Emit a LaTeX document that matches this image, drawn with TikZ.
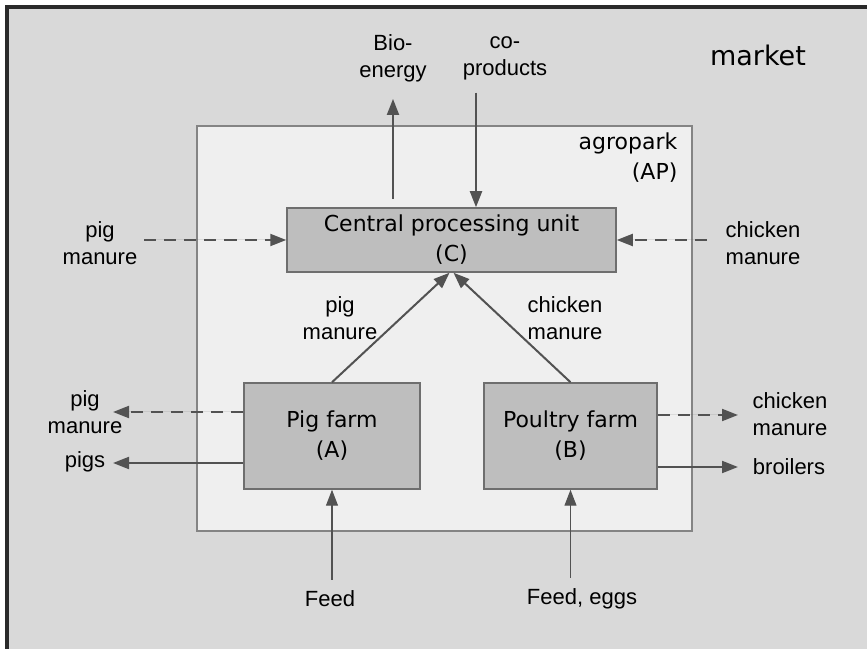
\documentclass[tikz,border=0pt]{standalone}
\usepackage{fontspec}
\setmainfont{Liberation Sans}
\newfontfamily\boxfont{DejaVu Sans}
\usepackage{xcolor}
\usepackage{tikz}
\usetikzlibrary{arrows.meta,positioning}

\definecolor{marketgray}{HTML}{D9D9D9}
\definecolor{parkgray}{HTML}{EFEFEF}
\definecolor{unitgray}{HTML}{BEBEBE}
\definecolor{edgegray}{HTML}{6E6E6E}
\definecolor{framedark}{HTML}{2A2A2A}

\begin{document}
\begin{tikzpicture}[
  x=1pt, y=1pt,
  park/.style={rectangle, draw=edgegray!85, fill=parkgray, line width=1.5pt},
  unit/.style={rectangle, draw=edgegray, fill=unitgray, line width=1.5pt,
               font=\boxfont\fontsize{22}{30}\selectfont, align=center},
  lbl/.style={font=\fontsize{22}{27}\selectfont, align=center, inner sep=1pt},
  biglbl/.style={font=\boxfont\fontsize{22}{30}\selectfont, align=center, inner sep=1pt},
  arrow/.style={-{Triangle[length=16pt,width=12pt]}, line width=2pt, draw=black!68, fill=black!68},
  dasharrow/.style={arrow, dash pattern=on 12pt off 8pt},
  feedarrow/.style={arrow, line width=1.1pt}
]
\useasboundingbox (0,0) rectangle (867,648);
\clip (0,0) rectangle (867,648);
\fill[marketgray] (7,-20) rectangle (890,641);
\draw[line width=4.5pt, framedark] (7,-20) -- (7,641) -- (890,641);

\node[biglbl, font=\boxfont\fontsize{27}{32}\selectfont] (market) at (758,593) {market};
\node[park, minimum width=495pt, minimum height=405pt] (ap) at (444.5,319.5) {};
\node[biglbl, align=right] (aplabel) at (628,490) {agropark\\(AP)};

\node[unit, minimum width=329pt, minimum height=64pt] (cpu) at (451.5,408) {Central processing unit\\(C)};
\node[unit, minimum width=176pt, minimum height=106pt] (pig) at (332,212) {Pig farm\\(A)};
\node[unit, minimum width=173pt, minimum height=106pt] (poultry) at (570.5,212) {Poultry farm\\(B)};

\node[lbl] (bio) at (393,590) {Bio-\\energy};
\node[lbl] (coprod) at (505,590) {co-\\products};
\node[lbl] (pigin) at (100,405) {pig\\manure};
\node[lbl] (chickin) at (763,405) {chicken\\manure};
\node[lbl] (pigcpu) at (340,330) {pig\\manure};
\node[lbl] (chickcpu) at (565,330) {chicken\\manure};
\node[lbl] (pigout) at (85,236) {pig\\manure};
\node[lbl] (pigs) at (85,186) {pigs};
\node[lbl] (chickout) at (790,234) {chicken\\manure};
\node[lbl] (broilers) at (789,181) {broilers};
\node[lbl] (feed) at (330,49) {Feed};
\node[lbl] (feedeggs) at (582,49) {Feed, eggs};

\draw[arrow, shorten >=16pt] ([yshift=8pt]bio.south |- cpu.north) -- (bio.south);
\draw[arrow, shorten <=12pt] ([xshift=-29pt]coprod.south) -- ([xshift=-29pt]coprod.south |- cpu.north);
\draw[dasharrow, shorten <=6pt] (pigin.east |- cpu.west) -- (cpu.west);
\draw[dasharrow, shorten <=18pt] (chickin.west |- cpu.east) -- (cpu.east);
\draw[arrow] (pig.north) -- ([xshift=-2pt]cpu.south);
\draw[arrow] (poultry.north) -- ([xshift=2pt]cpu.south);
\draw[dasharrow, shorten >=28pt] ([yshift=24pt]pig.west) -- ([yshift=24pt]pig.west -| pigout.center);
\draw[arrow, shorten >=28pt] ([yshift=-27pt]pig.west) -- ([yshift=-27pt]pig.west -| pigs.center);
\draw[dasharrow, shorten >=52pt] ([yshift=21pt]poultry.east) -- ([yshift=21pt]poultry.east -| chickout.center);
\draw[arrow, shorten >=51pt] ([yshift=-31pt]poultry.east) -- ([yshift=-31pt]poultry.east -| broilers.center);
\draw[feedarrow, shorten <=10pt] (pig.south |- feed.north) -- (pig.south);
\draw[feedarrow, shorten <=10pt] (poultry.south |- feedeggs.north) -- (poultry.south);
\end{tikzpicture}
\end{document}
